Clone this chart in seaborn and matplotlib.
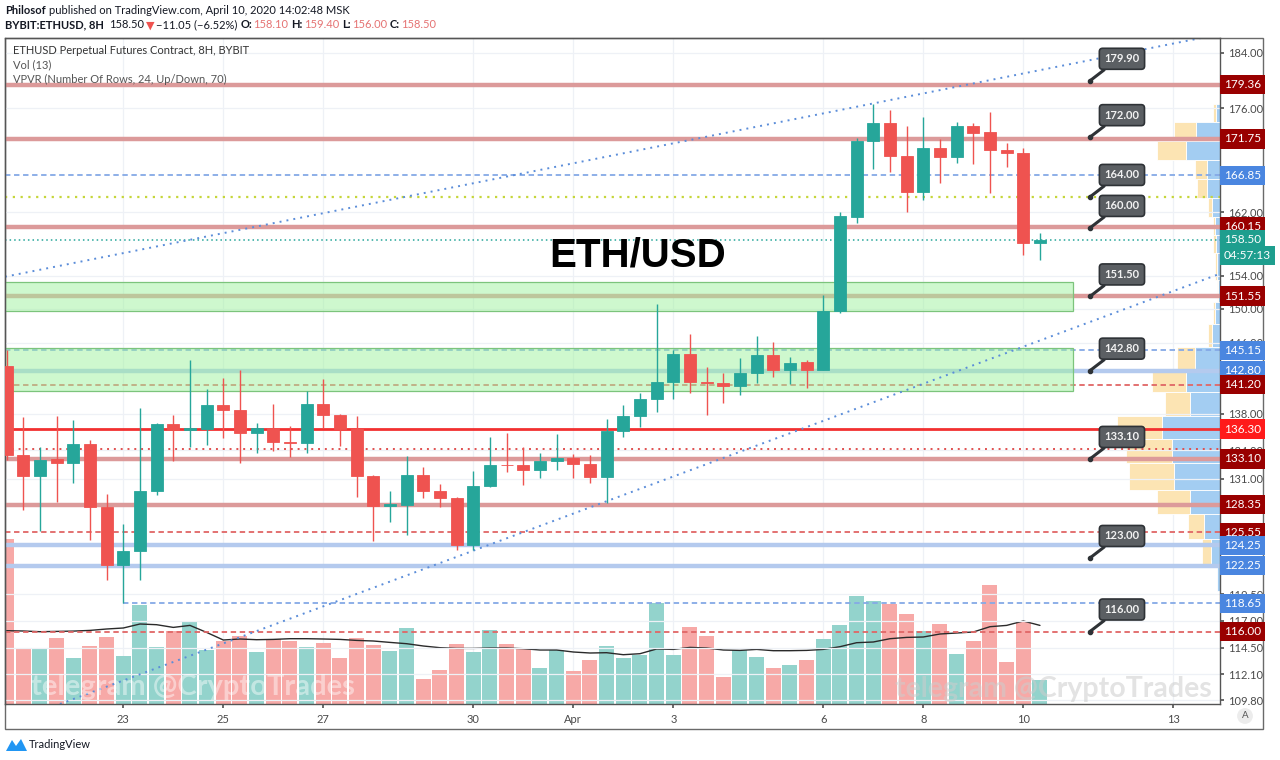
import matplotlib
matplotlib.use("Agg")
import pandas as pd
import matplotlib.pyplot as plt
import matplotlib.dates as mdates
import matplotlib.ticker as mticker
import matplotlib.patches as mpatches
import seaborn as sns

sns.set_theme(style="white")
plt.rcParams['font.family'] = ['Lato', 'DejaVu Sans']

# ================================
# Datos (velas de 8H, BYBIT:ETHUSD)
# ================================
first_candle = "2020-03-20 16:00"
opens = [143.28, 133.47, 131.32, 133.04, 132.72, 134.68, 128.10, 122.28, 123.71, 129.77,
         136.84, 136.22, 136.30, 138.89, 138.41, 135.93, 136.40, 134.96, 134.85, 139.04,
         137.86, 136.33, 131.32, 128.23, 128.33, 131.43, 129.77, 129.07, 124.30, 130.28,
         132.48, 132.42, 131.95, 132.83, 133.19, 132.58, 131.25, 136.11, 137.75, 139.63,
         141.57, 144.73, 141.57, 141.38, 141.08, 142.52, 144.62, 142.90, 143.77, 142.90,
         149.81, 161.45, 171.47, 173.95, 169.48, 164.69, 170.52, 169.35, 173.56, 172.64,
         170.25, 169.84, 158.10]
highs = [145.20, 137.60, 134.36, 137.75, 137.31, 135.14, 129.46, 126.40, 138.60, 136.95,
         137.86, 143.96, 140.72, 141.95, 142.90, 136.95, 139.04, 136.65, 140.45, 141.87,
         137.90, 137.68, 131.40, 129.77, 133.36, 132.24, 130.48, 129.10, 131.80, 135.42,
         135.86, 134.36, 133.72, 135.79, 133.64, 133.54, 137.39, 138.96, 140.27, 150.61,
         145.19, 147.05, 143.20, 142.52, 144.23, 146.74, 146.15, 144.34, 144.04, 151.68,
         162.01, 171.90, 176.60, 175.76, 173.56, 174.83, 171.80, 174.14, 173.95, 175.52,
         171.20, 170.52, 159.40]
lows = [133.00, 127.82, 125.63, 128.56, 130.56, 124.73, 120.82, 118.65, 120.82, 129.35,
        132.83, 134.42, 134.60, 135.32, 132.72, 133.72, 133.96, 133.30, 133.72, 136.40,
        134.50, 129.10, 124.70, 126.53, 125.30, 129.00, 128.10, 123.74, 123.81, 130.20,
        131.70, 130.38, 131.07, 131.88, 131.07, 130.56, 128.50, 135.49, 136.51, 138.22,
        139.60, 140.27, 137.86, 139.22, 140.08, 141.38, 142.13, 141.31, 140.83, 142.85,
        149.50, 160.62, 167.69, 167.33, 162.09, 163.61, 165.88, 168.50, 168.41, 164.47,
        167.92, 156.54, 156.00]
closes = [133.54, 131.32, 133.01, 132.72, 134.68, 128.10, 122.28, 123.71, 129.77, 136.87,
          136.22, 136.40, 138.89, 138.41, 135.93, 136.40, 134.96, 134.80, 139.04, 137.86,
          136.33, 131.32, 128.23, 128.43, 131.43, 129.77, 129.00, 124.30, 130.28, 132.42,
          132.42, 131.95, 132.83, 133.19, 132.58, 131.25, 136.11, 137.75, 139.63, 141.57,
          144.73, 141.57, 141.40, 141.08, 142.52, 144.62, 142.90, 143.73, 142.90, 149.81,
          161.54, 171.52, 173.95, 169.48, 164.69, 170.52, 169.35, 173.56, 172.57, 170.25,
          169.80, 158.10, 158.50]
volumes = [165.0, 55.0, 55.3, 66.0, 45.7, 57.7, 66.7, 48.3, 99.0, 56.7,
           73.3, 83.3, 53.7, 63.0, 68.0, 51.7, 64.7, 62.7, 57.3, 61.0,
           46.3, 65.7, 59.0, 52.7, 76.3, 25.0, 33.7, 60.3, 52.0, 73.7,
           59.7, 55.7, 36.0, 54.3, 32.7, 44.3, 57.7, 46.0, 48.7, 100.7,
           48.7, 77.0, 67.7, 26.7, 53.7, 47.3, 36.3, 39.3, 44.3, 64.7,
           78.7, 108.3, 103.3, 100.0, 90.3, 73.3, 79.7, 49.7, 63.0, 119.3,
           42.0, 82.0, 24.3]
vol_ma = [73.3, 73.0, 72.3, 72.6, 72.9, 73.6, 75.0, 76.0, 80.0, 79.3,
          76.6, 78.6, 71.6, 64.0, 65.0, 64.3, 64.6, 65.3, 65.3, 65.0,
          64.6, 63.6, 63.0, 61.6, 60.3, 58.0, 56.3, 55.6, 55.6, 56.0,
          56.0, 55.3, 54.0, 54.0, 52.0, 51.0, 51.3, 49.3, 50.3, 55.0,
          54.6, 56.6, 56.0, 54.0, 53.6, 54.6, 53.3, 53.3, 53.6, 54.6,
          57.3, 61.3, 62.0, 65.3, 66.6, 67.0, 70.0, 71.0, 72.0, 77.3,
          78.6, 83.0, 78.6]

# VPVR: limites de filas (precio) y volumen up / down por fila
vp_edges = [176.60, 174.09, 171.47, 168.83, 166.36, 163.87, 161.45, 159.12, 156.79, 153.52,
            150.79, 148.23, 145.48, 143.01, 140.42, 137.75, 135.19, 132.66, 129.87, 127.41,
            124.85, 122.44, 119.83]
vp_up = [4, 24, 34, 13.3, 13.3, 8.3, 5, 4, 3, 2.5, 5, 8.3, 25, 34, 30, 58.3, 48.3, 46, 30, 16, 9.3, 3.3]
vp_down = [3.3, 22, 29.3, 11.7, 10, 3.3, 2.3, 2.7, 2.3, 1, 2.3, 3.3, 18.3, 34.3, 25, 45, 45.7, 44.7, 32.7, 16.3, 9, 0]

# niveles horizontales
lv_thick_red = [179.36, 171.75, 160.15, 151.55, 133.10, 128.35]
lv_thick_blue = [142.80, 124.25, 122.25]
lv_dash_blue = [166.85, 145.15]
lv_dash_red = [141.20, 125.55, 116.00]
lv_solid_red = [136.30]
lv_dot_red = [134.20]
lv_dot_lime = [164.00]
last_price = 158.50
lv_118 = 118.65
lv_118_from = "2020-03-23 00:00"

axis_tags = [(179.36, "dr"), (171.75, "dr"), (166.85, "b"), (160.15, "dr"), (158.50, "t"),
             (151.55, "dr"), (145.15, "b"), (142.80, "b"), (141.20, "dr"), (136.30, "r"),
             (133.10, "dr"), (128.35, "dr"), (125.55, "dr"), (124.25, "b"), (122.25, "b"),
             (118.65, "b"), (116.00, "dr")]
callouts = [179.90, 172.00, 164.00, 160.00, 151.50, 142.80, 133.10, 123.00, 116.00]
callout_time = "2020-04-11 08:00"

zones = [(149.80, 153.20), (140.50, 145.40)]
zone_end = "2020-04-11 00:00"

# lineas de tendencia (dos puntos cada una)
trend_up = [("2020-03-23 00:00", 156.82), ("2020-04-13 00:00", 185.32)]
trend_low = [("2020-03-23 00:00", 111.56), ("2020-04-13 00:00", 152.15)]

price_ticks = [109.80, 112.10, 114.50, 117.00, 119.50, 131.00, 134.00, 138.00,
               146.00, 150.00, 154.00, 162.00, 176.00, 184.00]
date_ticks = ["2020-03-23", "2020-03-25", "2020-03-27", "2020-03-30", "2020-04-01",
              "2020-04-03", "2020-04-06", "2020-04-08", "2020-04-10", "2020-04-13"]
date_labels = ["23", "25", "27", "30", "Apr", "3", "6", "8", "10", "13"]

# ================================
# Figura
# ================================
W, H = 1280, 760
fig = plt.figure(figsize=(W / 100, H / 100), dpi=100, facecolor="white")

def fx(px):
    return px / W

def fy(py):
    return 1 - py / H

rect = [fx(5), fy(704), fx(1220) - fx(5), fy(38) - fy(704)]
ax_vol = fig.add_axes(rect)
ax_vp = fig.add_axes(rect)
ax = fig.add_axes(rect, sharex=ax_vol)
ax_vol.set_zorder(0)
ax_vp.set_zorder(1)
ax.set_zorder(2)
ax.patch.set_visible(False)
ax_vp.patch.set_visible(False)

GREEN, RED = "#26a69a", "#ef5350"
times = pd.date_range(first_candle, periods=len(opens), freq="8h")
xs = mdates.date2num(times.to_pydatetime())
d23 = mdates.date2num(pd.Timestamp("2020-03-23").to_pydatetime())
xlim = (d23 - 2.366, d23 + 21.934)

def tnum(s):
    return mdates.date2num(pd.Timestamp(s).to_pydatetime())

# ---- volumen ----
vcols = ["#93d3cc" if c >= o else "#f7a9a7" for o, c in zip(opens, closes)]
ax_vol.bar(xs, volumes, width=0.3, color=vcols, linewidth=0)
sns.lineplot(x=xs, y=vol_ma, ax=ax_vol, color="#2a2a2a", linewidth=1.0, legend=False)
ax_vol.set_xlim(*xlim)
ax_vol.set_ylim(0, 666)
ax_vol.set_yticks([])
for v in [tnum(d) for d in date_ticks]:
    ax_vol.axvline(v, color="#eef1f6", lw=0.9, zorder=0)
for s in ax_vol.spines.values():
    s.set_visible(False)

# ---- VPVR ----
ax_vp.set_yscale("log")
ylim = (109.49, 186.14)
ax_vp.set_ylim(*ylim)
for i in range(len(vp_up)):
    top, bot = vp_edges[i], vp_edges[i + 1]
    ax_vp.barh(bot, vp_up[i], height=top - bot, left=0, align="edge",
               color="#a3cdf2", edgecolor="white", linewidth=0.6)
    if vp_down[i] > 0:
        ax_vp.barh(bot, vp_down[i], height=top - bot, left=vp_up[i], align="edge",
                   color="#fce4b3", edgecolor="white", linewidth=0.6)
ax_vp.set_xlim(1215, 0)
ax_vp.axis("off")

# ---- precio ----
ax.set_yscale("log")
ax.set_ylim(*ylim)
ax.set_xlim(*xlim)
for p in price_ticks:
    ax.axhline(p, color="#eef1f6", lw=0.9, zorder=0)

for p in lv_thick_red:
    ax.axhline(p, color="#dc9a9a", lw=3.2, zorder=1)
for p in lv_thick_blue:
    ax.axhline(p, color="#b4caee", lw=3.2, zorder=1)
for p in lv_dash_blue:
    ax.axhline(p, color="#85a9e6", lw=1.3, ls=(0, (3, 2)), zorder=1)
for p in lv_dash_red:
    ax.axhline(p, color="#e06666", lw=1.3, ls=(0, (3, 2)), zorder=1)
for p in lv_solid_red:
    ax.axhline(p, color="#f23030", lw=2.0, zorder=1)
for p in lv_dot_red:
    ax.axhline(p, color="#e05050", lw=1.4, ls=(0, (1, 2.5)), zorder=1)
for p in lv_dot_lime:
    ax.axhline(p, color="#c6d63a", lw=1.6, ls=(0, (1, 2.5)), zorder=1)
ax.axhline(last_price, color="#26a69a", lw=1.1, ls=(0, (1, 2)), zorder=1)
ax.hlines(lv_118, tnum(lv_118_from), xlim[1], color="#85a9e6", lw=1.3,
          ls=(0, (3, 2)), zorder=1)

# zonas verdes
for lo, hi in zones:
    ax.add_patch(mpatches.Rectangle((xlim[0] - 1, lo), tnum(zone_end) - xlim[0] + 1, hi - lo,
                                    facecolor="#9ff29f", alpha=0.5, edgecolor="none", zorder=2))
    ax.add_patch(mpatches.Rectangle((xlim[0] - 1, lo), tnum(zone_end) - xlim[0] + 1, hi - lo,
                                    facecolor="none", edgecolor="#7cc47c", lw=0.9, zorder=2))

# tendencias
for pts in (trend_up, trend_low):
    (t1, p1), (t2, p2) = pts
    ax.axline((tnum(t1), p1), (tnum(t2), p2), color="#5b8dd9", lw=1.4,
              ls=(0, (1, 2.6)), zorder=2)

# velas
for x, o, h, l, c in zip(xs, opens, highs, lows, closes):
    col = GREEN if c >= o else RED
    ax.vlines(x, l, h, color=col, lw=1.0, zorder=4)
    ax.bar(x, abs(c - o), bottom=min(o, c), width=0.24, color=col,
           edgecolor=col, linewidth=0.6, zorder=5)

# callouts
ct = tnum(callout_time)
for v in callouts:
    ax.plot([ct], [v], "o", ms=3, color="#2e3236", zorder=7)
    ax.annotate(f"{v:.2f}", xy=(ct, v), xytext=(32, 22), textcoords="offset pixels",
                ha="center", va="center", fontsize=8, fontweight="bold", color="#f2f2f2",
                bbox=dict(boxstyle="round,pad=0.45,rounding_size=0.3", fc="#5b5f63",
                          ec="#2e3236", lw=1.2),
                arrowprops=dict(arrowstyle="-", color="#2e3236", lw=2.2,
                                shrinkA=0, shrinkB=0, relpos=(0.2, 0.0)),
                zorder=8, annotation_clip=False)

# eje de precios
ax.yaxis.tick_right()
ax.yaxis.set_major_locator(mticker.FixedLocator(price_ticks))
ax.yaxis.set_major_formatter(mticker.FuncFormatter(lambda v, _: f"{v:.2f}"))
ax.yaxis.set_minor_locator(mticker.NullLocator())
ax.tick_params(axis="y", which="major", length=3, color="#555555",
               labelcolor="#4a4a4a", labelsize=8, pad=3, right=True, left=False)
ax.set_xticks([tnum(d) for d in date_ticks])
ax.set_xticklabels(date_labels)
ax.tick_params(axis="x", length=3, color="#555555", labelcolor="#4a4a4a",
               labelsize=8, pad=4, bottom=True)
ax_vol.tick_params(axis="x", bottom=False, labelbottom=False)
for s in ax.spines.values():
    s.set_color("#555555")
    s.set_linewidth(1.0)

tag_colors = {"dr": "#990000", "b": "#4a86e0", "r": "#ff1a1a", "t": "#1e9e8e"}
for v, k in axis_tags:
    ax.annotate(f"{v:.2f}", xy=(1, v), xycoords=("axes fraction", "data"),
                xytext=(4, 0), textcoords="offset pixels", ha="left", va="center",
                fontsize=8.5, color="white",
                bbox=dict(boxstyle="square,pad=0.35", fc=tag_colors[k], ec="none"),
                zorder=9, annotation_clip=False)
ax.annotate("04:57:13", xy=(1, last_price), xycoords=("axes fraction", "data"),
            xytext=(4, -16), textcoords="offset pixels", ha="left", va="center",
            fontsize=8.5, color="white",
            bbox=dict(boxstyle="square,pad=0.32", fc="#1e9e8e", ec="none"),
            zorder=9, annotation_clip=False)

# marco exterior
fig.add_artist(mpatches.Rectangle((fx(5), fy(729)), fx(1263) - fx(5), fy(38) - fy(729),
                                  transform=fig.transFigure, fill=False,
                                  edgecolor="#6a6a6a", lw=1.0))
fig.text(fx(1245), fy(716), "A", ha="center", va="center", fontsize=7, color="#555555",
         bbox=dict(boxstyle="circle,pad=0.35", fc="#ececec", ec="none"))

# textos
def run(x, y, parts, size):
    r = fig.canvas.get_renderer()
    for s, col, w, gap in parts:
        t = fig.text(fx(x), fy(y), s, color=col, fontweight=w, fontsize=size,
                     ha="left", va="center")
        x += t.get_window_extent(renderer=r).width + gap

DARK, HRED = "#131722", "#e57373"
run(5, 10, [("Philosof", DARK, "bold", 3),
            ("published on TradingView.com, April 10, 2020 14:02:48 MSK", DARK, "normal", 0)], 8)
run(5, 25, [("BYBIT:ETHUSD, 8H", DARK, "bold", 5), ("158.50", DARK, "normal", 2),
            ("▼", "#ef5350", "normal", 2), ("−11.05 (−6.52%)", DARK, "normal", 3),
            ("O:", DARK, "bold", 1), ("158.10", HRED, "normal", 3),
            ("H:", DARK, "bold", 1), ("159.40", HRED, "normal", 3),
            ("L:", DARK, "bold", 1), ("156.00", HRED, "normal", 3),
            ("C:", DARK, "bold", 1), ("158.50", HRED, "normal", 0)], 8)

fig.text(fx(13), fy(51), "ETHUSD Perpetual Futures Contract, 8H, BYBIT", fontsize=8,
         color="#333333", va="center")
fig.text(fx(13), fy(65), "Vol (13)", fontsize=8, color="#555555", va="center")
fig.text(fx(13), fy(79), "VPVR (Number Of Rows, 24, Up/Down, 70)", fontsize=8,
         color="#555555", va="center")

fig.text(fx(638), fy(256), "ETH/USD", fontsize=29, fontweight="bold", color="#000000",
         ha="center", va="center", family=["Liberation Sans", "DejaVu Sans"])

fig.text(fx(193), fy(687), "telegram @CryptoTrades", fontsize=21, fontweight="bold",
         color="white", alpha=0.45, ha="center", va="center")
fig.text(fx(1053), fy(689), "telegram @CryptoTrades", fontsize=20.5, fontweight="bold",
         color="#cccccc", alpha=0.55, ha="center", va="center")

fig.add_artist(mpatches.Polygon([(fx(6), fy(751)), (fx(12), fy(740)), (fx(16), fy(746)),
                                 (fx(21), fy(739)), (fx(27), fy(751))],
                                closed=True, transform=fig.transFigure,
                                facecolor="#2196f3", edgecolor="none"))
fig.text(fx(29), fy(745), "TradingView", fontsize=8, color="#131722", va="center")

fig.savefig("out.png", dpi=100, facecolor="white")
